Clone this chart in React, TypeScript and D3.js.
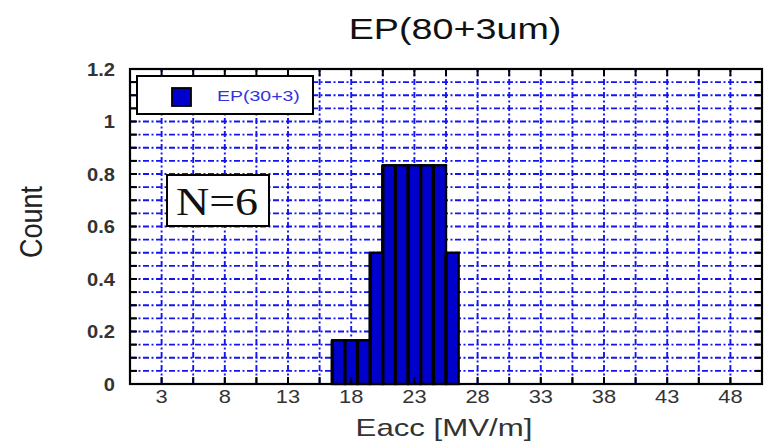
import React from "react";
import * as d3 from "d3";

const binCenters = [17, 18, 19, 20, 21, 22, 23, 24, 25, 26];
const binValues = [0.1667, 0.1667, 0.1667, 0.5, 0.8333, 0.8333, 0.8333, 0.8333, 0.8333, 0.5];
const xTickLabels = [3, 8, 13, 18, 23, 28, 33, 38, 43, 48];
const yTickLabels = ["0", "0.2", "0.4", "0.6", "0.8", "1", "1.2"];
const yTickValues = [0, 0.2, 0.4, 0.6, 0.8, 1.0, 1.2];
const title = "EP(80+3um)";
const xLabel = "Eacc [MV/m]";
const yLabel = "Count";
const legendLabel = "EP(30+3)";
const noteLabel = "N=6";

const W = 765, H = 445;
const left = 130, right = 762, top = 69, bottom = 384;

export default function App() {
  const x = d3.scaleLinear().domain([0.5, 50.5]).range([left, right]);
  const y = d3.scaleLinear().domain([0, 1.2]).range([bottom, top]);
  const xMinor = d3.range(3, 50, 2.5);
  const yMinor = d3.range(1, 24).map((i) => i * 0.05);
  const font = "'Liberation Sans', Arial, sans-serif";
  const grid = "#1414f0";
  const dash = "6,2.5,2,2.5";
  return (
    <svg width={W} height={H} style={{ display: "block", position: "absolute", left: 0, top: 0 }}>
      <rect x={0} y={0} width={W} height={H} fill="#fff" />
      {/* grid */}
      {xMinor.map((v) => (
        <line key={"gx" + v} x1={x(v)} x2={x(v)} y1={bottom} y2={top} stroke={grid} strokeWidth={1.9} strokeDasharray={dash} />
      ))}
      {yMinor.map((v) => (
        <line key={"gy" + v} x1={left} x2={right} y1={y(v)} y2={y(v)} stroke={grid} strokeWidth={1.9} strokeDasharray={dash} />
      ))}
      {/* bars */}
      {binCenters.map((c, i) => (
        <rect key={"b" + c} x={x(c - 0.5)} y={y(binValues[i])} width={x(c + 0.5) - x(c - 0.5)} height={bottom - y(binValues[i])} fill="#0000cc" stroke="#000" strokeWidth={2.4} />
      ))}
      {binCenters.map((c, i) => (
        <line key={"s" + c} x1={x(c - 0.5)} x2={x(c - 0.5)} y1={y(binValues[i])} y2={bottom} stroke="#000" strokeWidth={3.4} />
      ))}
      {/* ticks */}
      {xMinor.map((v) => (
        <g key={"tx" + v}>
          <line x1={x(v)} x2={x(v)} y1={bottom} y2={bottom - 7} stroke="#000" strokeWidth={2} />
          <line x1={x(v)} x2={x(v)} y1={top} y2={top + 7} stroke="#000" strokeWidth={2} />
        </g>
      ))}
      {yMinor.map((v) => (
        <g key={"ty" + v}>
          <line x1={left} x2={left + 7} y1={y(v)} y2={y(v)} stroke="#000" strokeWidth={2} />
          <line x1={right} x2={right - 7} y1={y(v)} y2={y(v)} stroke="#000" strokeWidth={2} />
        </g>
      ))}
      {/* frame */}
      <rect x={left} y={top} width={right - left} height={bottom - top} fill="none" stroke="#000" strokeWidth={2.2} />
      {/* x tick labels */}
      {xTickLabels.map((v) => (
        <text key={"xl" + v} transform={`translate(${x(v)},403) scale(1.25,1)`} textAnchor="middle" fontFamily={font} fontSize={17.5} fill="#333">{v}</text>
      ))}
      {yTickValues.map((v, i) => (
        <text key={"yl" + v} transform={`translate(115,${y(v) + 6.5}) scale(1.15,1)`} textAnchor="end" fontFamily={font} fontSize={17.5} fontWeight="bold" fill="#333">{yTickLabels[i]}</text>
      ))}
      {/* legend */}
      <rect x={137} y={76} width={176} height={38} fill="#fff" stroke="#000" strokeWidth={2} />
      <rect x={172} y={88} width={19} height={18} fill="#0000cc" stroke="#000" strokeWidth={1.8} />
      <text transform="translate(217,101) scale(1.3,1)" fontFamily={font} fontSize={15} fill="#3333dd">{legendLabel}</text>
      {/* N=6 box */}
      <rect x={167} y={175} width={102} height={51} fill="#fff" stroke="#000" strokeWidth={2} />
      <text transform="translate(217,215) scale(1.15,1)" textAnchor="middle" fontFamily="'Liberation Serif', 'Times New Roman', serif" fontSize={40} fill="#111">{noteLabel}</text>
      {/* titles */}
      <text transform="translate(455,39) scale(1.3,1)" textAnchor="middle" fontFamily={font} fontSize={29} fill="#111">{title}</text>
      <text transform="translate(444,436) scale(1.3,1)" textAnchor="middle" fontFamily={font} fontSize={24} fill="#333">{xLabel}</text>
      <text transform="translate(42,222) scale(1.15,1) rotate(-90)" textAnchor="middle" fontFamily={font} fontSize={27} fill="#222">{yLabel}</text>
    </svg>
  );
}
